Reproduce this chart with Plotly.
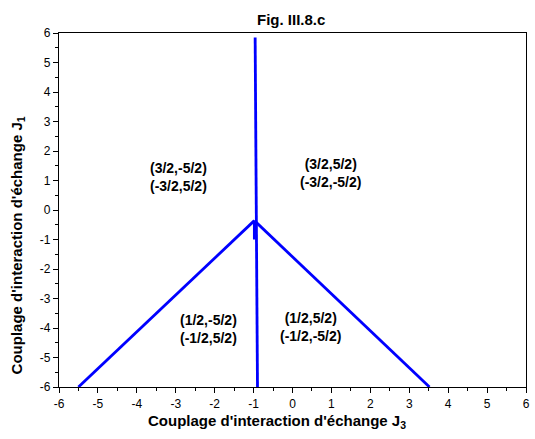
import plotly.graph_objects as go

# Phase boundary lines (J3, J1)
vert_x = [-0.96, -0.90]
vert_y = [5.85, -6.0]
left_x = [-5.5, -0.98]
left_y = [-6.0, -0.36]
right_x = [-0.98, 3.52]
right_y = [-0.36, -6.0]
stub_x = [-0.98, -0.98]
stub_y = [-0.36, -1.0]

# Region labels
label_text = ["(3/2,-5/2)<br>(-3/2,5/2)", "(3/2,5/2)<br>(-3/2,-5/2)",
              "(1/2,-5/2)<br>(-1/2,5/2)", "(1/2,5/2)<br>(-1/2,-5/2)"]
label_x = [-2.94, 0.98, -2.15, 0.45]
label_y = [1.12, 1.25, -4.03, -3.98]

ticks = list(range(-6, 7))

blue = "#0000FF"
fig = go.Figure()
for xs, ys in [(vert_x, vert_y), (left_x, left_y), (right_x, right_y), (stub_x, stub_y)]:
    fig.add_trace(go.Scatter(x=xs, y=ys, mode="lines",
                             line=dict(color=blue, width=2.8), showlegend=False))

for t, x, y in zip(label_text, label_x, label_y):
    fig.add_annotation(x=x, y=y, text="<b>" + t + "</b>", showarrow=False,
                       font=dict(family="Liberation Sans, Arial", size=14, color="black"),
                       align="center")

axis_common = dict(
    showgrid=False, zeroline=False, showline=True, linecolor="black", linewidth=1.2,
    mirror=True, ticks="outside", ticklen=5, tickwidth=1, tickcolor="black",
    tickfont=dict(family="Liberation Sans, Arial", size=12, color="black"),
    tickvals=ticks, ticktext=[str(t) for t in ticks],
    minor=dict(ticks="outside", ticklen=3, tickwidth=1, tickcolor="black", dtick=0.5),
)

fig.update_layout(
    width=535, height=439,
    margin=dict(l=59, r=5, t=33, b=52),
    paper_bgcolor="white", plot_bgcolor="white",
    xaxis=dict(range=[-6, 6], **axis_common),
    yaxis=dict(range=[-6, 6], **axis_common),
    font=dict(family="Liberation Sans, Arial", color="black"),
)

fig.add_annotation(xref="paper", yref="paper", x=0.497, y=1, yshift=14, text="<b>Fig. III.8.c</b>",
                   showarrow=False, font=dict(size=15), xanchor="center", yanchor="middle")
fig.add_annotation(xref="paper", yref="paper", x=0.467, y=0, yshift=-46,
                   text="<b>Couplage d'interaction d'échange J<sub>3</sub></b>",
                   showarrow=False, font=dict(size=15), xanchor="center", yanchor="bottom")
fig.add_annotation(xref="paper", yref="paper", x=0, xshift=-42, y=0.40,
                   text="<b>Couplage d'interaction d'échange J<sub>1</sub></b>",
                   showarrow=False, font=dict(size=15), textangle=-90,
                   xanchor="center", yanchor="middle")

fig.write_html("out.html")
